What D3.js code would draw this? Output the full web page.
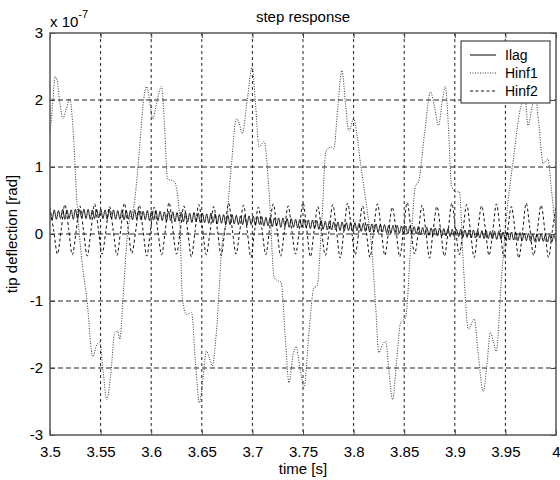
<!DOCTYPE html>
<html><head><meta charset="utf-8">
<script src="https://cdn.jsdelivr.net/npm/d3@7"></script>
<style>body{margin:0;background:#fff}svg{display:block}text{font-family:"Liberation Sans",Arial,sans-serif;fill:#000}</style>
</head><body><svg id="c" width="560" height="480"></svg>
<script>
// ---- data ----
const xTickVals = [3.5,3.55,3.6,3.65,3.7,3.75,3.8,3.85,3.9,3.95,4];
const xTickLabels = ["3.5","3.55","3.6","3.65","3.7","3.75","3.8","3.85","3.9","3.95","4"];
const yTickVals = [-3,-2,-1,0,1,2,3];
const yTickLabels = ["-3","-2","-1","0","1","2","3"];
const seriesNames = ["Ilag","Hinf1","Hinf2"];

// Ilag: uniformly sampled from 3.5 to 4.0 (x 1e-7 rad)
const ilagStart = 3.5, ilagEnd = 4.0;
const ilagValues = [
0.35,0.21,0.36,0.22,0.35,0.23,0.37,0.22,0.36,0.23,0.36,0.22,0.37,0.23,0.36,0.24,0.37,0.23,0.37,0.22,0.36,0.23,0.37,0.24,
0.37,0.23,0.36,0.22,0.37,0.23,0.36,0.22,0.35,0.22,0.36,0.21,0.35,0.22,0.35,0.21,0.36,0.22,0.35,0.21,0.34,0.21,0.35,0.20,
0.34,0.21,0.35,0.20,0.34,0.20,0.33,0.19,0.34,0.20,0.33,0.18,0.32,0.19,0.33,0.18,0.32,0.18,0.31,0.17,0.32,0.18,0.31,0.17,
0.31,0.17,0.30,0.16,0.31,0.17,0.30,0.15,0.29,0.16,0.29,0.15,0.28,0.14,0.29,0.15,0.28,0.14,0.27,0.14,0.28,0.13,0.27,0.14,
0.27,0.13,0.26,0.14,0.26,0.12,0.25,0.12,0.25,0.11,0.24,0.12,0.24,0.10,0.24,0.11,0.23,0.10,0.23,0.10,0.22,0.09,0.22,0.10,
0.22,0.09,0.21,0.08,0.21,0.08,0.20,0.07,0.20,0.07,0.19,0.06,0.19,0.06,0.18,0.06,0.18,0.05,0.18,0.05,0.17,0.05,0.17,0.04,
0.17,0.05,0.16,0.04,0.16,0.04,0.15,0.03,0.15,0.03,0.15,0.02,0.14,0.03,0.14,0.02,0.13,0.01,0.13,0.02,0.13,0.01,0.12,0.01,
0.12,0.00,0.12,0.01,0.11,0.00,0.11,-0.01,0.10,-0.01,0.10,-0.02,0.09,-0.02,0.09,-0.03,0.09,-0.03,0.08,-0.03,0.08,-0.04,0.07,-0.04,
0.07,-0.04,0.07,-0.05,0.06,-0.05,0.06,-0.06,0.06,-0.06,0.05,-0.06,0.05,-0.07,0.05,-0.07,0.04,-0.07,0.04,-0.08,0.04,-0.08,0.03,-0.08,
0.03,-0.09,0.03,-0.09,0.02,-0.10,0.02,-0.10,0.01,-0.10,0.01,-0.11,0.00,-0.11,0.00,-0.11,0.00,-0.11,-0.01,-0.12,-0.01,-0.12,-0.02,-0.12
];

// Hinf1: traced (time, value) points
const hinf1Time = [3.5000,3.5030,3.5049,3.5069,3.5098,3.5128,3.5157,3.5197,3.5226,3.5266,3.5315,3.5364,3.5423,3.5463,3.5492,3.5522,3.5561,3.5600,3.5640,3.5669,3.5689,3.5728,3.5768,3.5837,3.5886,3.5925,3.5955,3.5984,3.6014,3.6053,3.6102,3.6132,3.6161,3.6201,3.6230,3.6280,3.6309,3.6348,3.6398,3.6437,3.6476,3.6516,3.6545,3.6575,3.6604,3.6644,3.6703,3.6742,3.6791,3.6841,3.6870,3.6900,3.6949,3.6998,3.7028,3.7067,3.7096,3.7116,3.7165,3.7215,3.7254,3.7283,3.7323,3.7362,3.7402,3.7431,3.7470,3.7510,3.7559,3.7608,3.7638,3.7687,3.7726,3.7776,3.7805,3.7844,3.7884,3.7923,3.7953,3.8002,3.8031,3.8071,3.8130,3.8179,3.8219,3.8248,3.8287,3.8317,3.8346,3.8386,3.8425,3.8465,3.8514,3.8563,3.8612,3.8642,3.8701,3.8760,3.8799,3.8839,3.8878,3.8907,3.8937,3.8967,3.9006,3.9045,3.9085,3.9134,3.9193,3.9232,3.9281,3.9321,3.9350,3.9380,3.9409,3.9459,3.9508,3.9577,3.9656,3.9695,3.9724,3.9764,3.9793,3.9833,3.9872,3.9921,3.9951,4.0000];
const hinf1Values = [1.5,2.0,2.35,2.3,1.95,1.72,1.85,2.02,1.6,0.48,-0.4,-0.97,-1.83,-1.65,-1.62,-2.0,-2.47,-2.1,-1.47,-1.45,-1.57,-0.8,0.03,0.5,1.3,2.0,2.2,2.0,1.72,1.95,2.2,1.6,0.82,0.8,0.78,0.27,-0.97,-1.2,-1.17,-1.9,-2.52,-2.1,-1.75,-1.85,-1.97,-1.47,-0.12,0.18,1.0,1.72,1.65,1.5,2.0,2.5,2.0,1.3,1.35,1.38,0.63,-0.65,-0.7,-0.72,-1.5,-2.22,-1.8,-1.68,-2.0,-2.29,-1.47,-0.8,-0.78,0.22,1.23,1.3,1.27,1.9,2.44,1.9,1.54,1.72,1.5,1.02,0.4,-0.22,-1.1,-1.77,-1.65,-1.6,-2.0,-2.47,-1.9,-1.32,-1.25,-0.22,0.72,0.78,1.5,2.12,1.9,1.62,2.0,2.2,1.6,0.72,0.63,0.63,-0.47,-1.42,-1.27,-1.8,-2.35,-1.9,-1.47,-1.6,-1.75,-0.72,0.22,1.1,1.92,2.02,1.62,1.9,2.07,1.6,1.05,1.12,0.72,0.0];

// Hinf2: uniformly sampled from 3.5 to 4.0
const hinf2Start = 3.5, hinf2End = 4.0;
const hinf2Values = [
0.40,0.05,-0.30,0.06, 0.44,0.08,-0.31,0.03, 0.42,0.06,-0.33,0.05, 0.45,0.07,-0.30,0.04,
0.41,0.05,-0.32,0.06, 0.46,0.08,-0.29,0.03, 0.43,0.06,-0.33,0.05, 0.40,0.04,-0.31,0.06,
0.47,0.07,-0.30,0.04, 0.42,0.05,-0.34,0.05, 0.44,0.08,-0.31,0.03, 0.41,0.06,-0.32,0.06,
0.46,0.07,-0.30,0.04, 0.43,0.05,-0.35,0.05, 0.40,0.06,-0.31,0.07, 0.45,0.08,-0.33,0.04,
0.42,0.05,-0.30,0.05, 0.47,0.07,-0.34,0.06, 0.41,0.04,-0.32,0.04, 0.44,0.06,-0.36,0.05,
0.46,0.08,-0.31,0.03, 0.42,0.05,-0.35,0.06, 0.45,0.07,-0.32,0.04, 0.40,0.06,-0.34,0.05,
0.47,0.08,-0.30,0.03, 0.43,0.05,-0.36,0.06, 0.41,0.06,-0.33,0.04, 0.46,0.07,-0.31,0.05,
0.44,0.05,-0.35,0.06, 0.42,0.08,-0.32,0.04, 0.45,0.06,-0.34,0.05, 0.41,0.05,-0.36,0.03,
0.46,0.07,-0.32,0.06, 0.43,0.06,-0.35,0.04, 0.42
];

// ---- drawing ----
const svg = d3.select("#c");
const L = 50, T = 33, R = 556, B = 435;
const x = d3.scaleLinear().domain([3.5, 4]).range([L, R]);
const y = d3.scaleLinear().domain([-3, 3]).range([B, T]);

svg.append("defs").append("clipPath").attr("id","clip")
  .append("rect").attr("x",L).attr("y",T).attr("width",R-L).attr("height",B-T);

// grid
const grid = svg.append("g");
grid.selectAll("line.v").data(xTickVals.slice(1,-1)).join("line")
  .attr("x1",d=>x(d)).attr("x2",d=>x(d)).attr("y1",T).attr("y2",B)
  .attr("stroke","#222").attr("stroke-width",1).attr("stroke-dasharray","3,3");
grid.selectAll("line.h").data(yTickVals.slice(1,-1)).join("line")
  .attr("y1",d=>y(d)).attr("y2",d=>y(d)).attr("x1",L).attr("x2",R)
  .attr("stroke","#222").attr("stroke-width",1).attr("stroke-dasharray","5,3");

// series
const plot = svg.append("g").attr("clip-path","url(#clip)");
const ilagData = ilagValues.map((v,i)=>({t: ilagStart + (ilagEnd-ilagStart)*i/(ilagValues.length-1), v}));
const hinf2Data = hinf2Values.map((v,i)=>({t: hinf2Start + (hinf2End-hinf2Start)*i/(hinf2Values.length-1), v}));
const hinf1Data = hinf1Time.map((t,i)=>({t, v: hinf1Values[i]}));

plot.append("path").attr("d", d3.line().x(d=>x(d.t)).y(d=>y(d.v)).curve(d3.curveCatmullRom)(hinf2Data))
  .attr("fill","none").attr("stroke","#111").attr("stroke-width",1).attr("stroke-dasharray","3,2.5");
plot.append("path").attr("d", d3.line().x(d=>x(d.t)).y(d=>y(d.v)).curve(d3.curveMonotoneX)(hinf1Data))
  .attr("fill","none").attr("stroke","#333").attr("stroke-width",1).attr("stroke-dasharray","1,1.5");
plot.append("path").attr("d", d3.line().x(d=>x(d.t)).y(d=>y(d.v)).curve(d3.curveCatmullRom)(ilagData))
  .attr("fill","none").attr("stroke","#000").attr("stroke-width",0.9);

// axes
const xa = svg.append("g").attr("transform",`translate(0,${B})`)
  .call(d3.axisBottom(x).tickValues(xTickVals).tickFormat((d,i)=>xTickLabels[i]).tickSize(-5).tickPadding(11));
const xt = svg.append("g").attr("transform",`translate(0,${T})`)
  .call(d3.axisTop(x).tickValues(xTickVals).tickFormat("").tickSize(-5));
const ya = svg.append("g").attr("transform",`translate(${L},0)`)
  .call(d3.axisLeft(y).tickValues(yTickVals).tickFormat((d,i)=>yTickLabels[i]).tickSize(-5).tickPadding(7));
const yr = svg.append("g").attr("transform",`translate(${R},0)`)
  .call(d3.axisRight(y).tickValues(yTickVals).tickFormat("").tickSize(-5));
[xa,xt,ya,yr].forEach(g=>{
  g.select(".domain").remove();
  g.selectAll(".tick line").attr("stroke","#444");
  g.selectAll(".tick text").style("font-size","15px").attr("fill","#000");
});

// box
svg.append("rect").attr("x",L).attr("y",T).attr("width",R-L).attr("height",B-T)
  .attr("fill","none").attr("stroke","#555").attr("stroke-width",1.5);

// exponent
const ex = svg.append("text").attr("x",L).attr("y",27).style("font-size","15px");
ex.append("tspan").text("x 10");
ex.append("tspan").attr("dy",-9).style("font-size","11px").text("-7");

// title & labels
svg.append("text").attr("x",(L+R)/2).attr("y",22).attr("text-anchor","middle").style("font-size","15px").text("step response");
svg.append("text").attr("x",(L+R)/2).attr("y",474).attr("text-anchor","middle").style("font-size","15px").text("time [s]");
svg.append("text").attr("transform",`translate(17,${(T+B)/2}) rotate(-90)`).attr("text-anchor","middle").style("font-size","15px").text("tip deflection [rad]");

// legend
const lg = svg.append("g");
lg.append("rect").attr("x",461).attr("y",41).attr("width",89).attr("height",62).attr("fill","#fff").attr("stroke","#222").attr("stroke-width",1);
const dashes = [null,"1,1.5","3,2.5"];
const strokes = ["#000","#333","#111"];
seriesNames.forEach((n,i)=>{
  const yy = 55 + i*18;
  lg.append("line").attr("x1",470).attr("x2",496).attr("y1",yy).attr("y2",yy)
    .attr("stroke",strokes[i]).attr("stroke-width",1).attr("stroke-dasharray",dashes[i]);
  lg.append("text").attr("x",505).attr("y",yy+5).style("font-size","14px").text(n);
});
</script></body></html>
